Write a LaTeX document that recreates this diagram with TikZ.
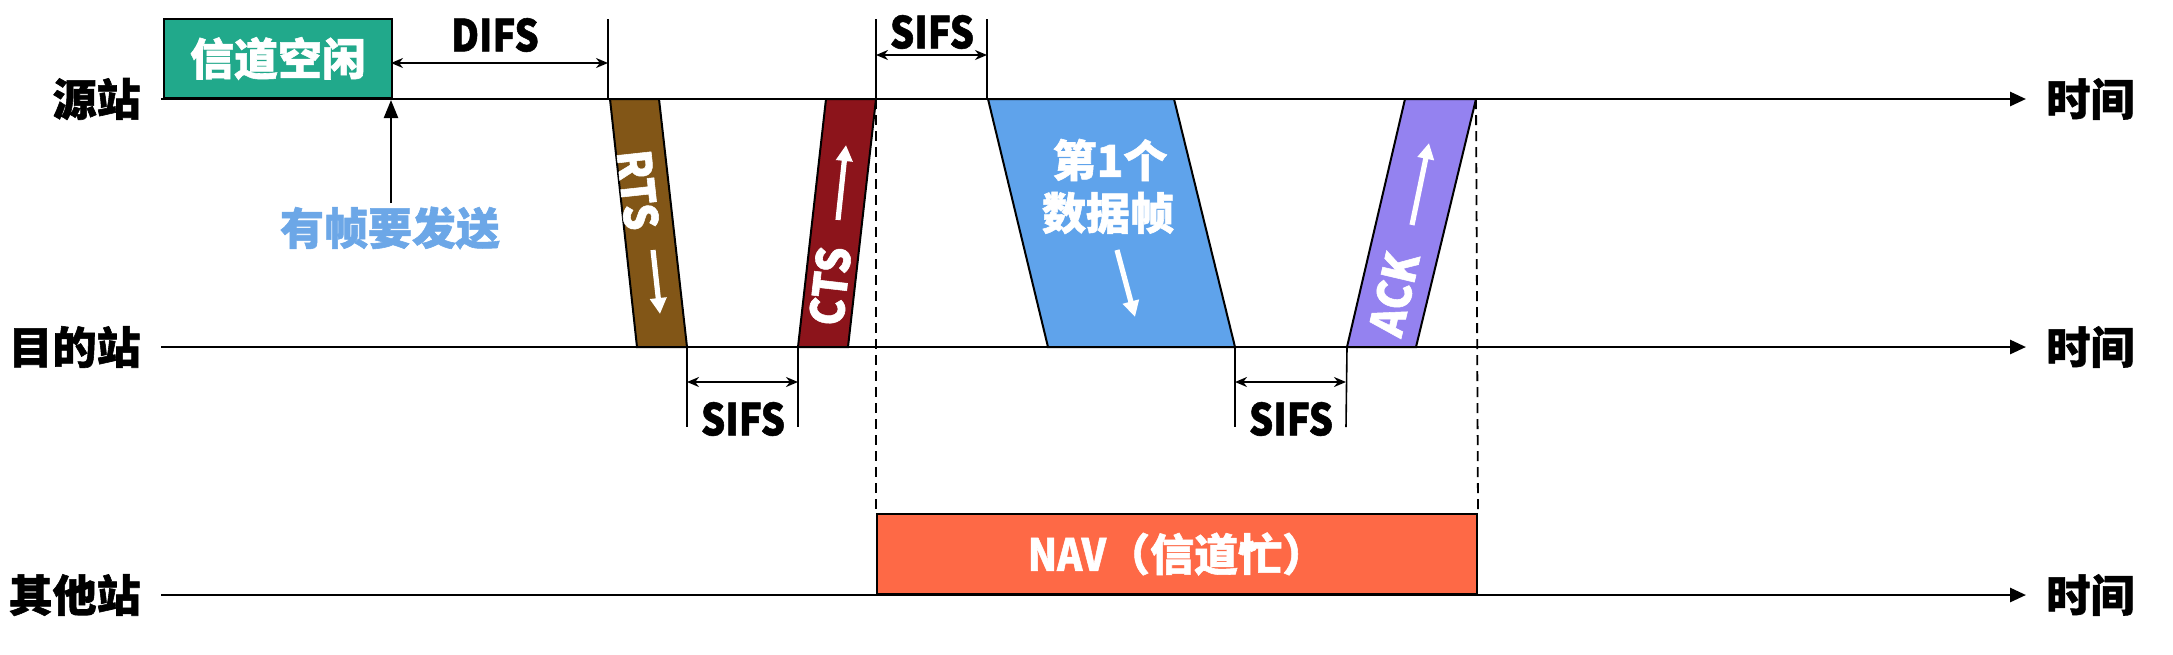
\documentclass[tikz,border=0pt]{standalone}
\usepackage{fontspec}
\usepackage{graphicx}
\setmainfont{Noto Sans CJK SC}[BoldFeatures={FakeBold=1.3}]
\newcommand\nar[1]{\scalebox{0.87}[1]{#1}}
\newcommand\narr[1]{\scalebox{0.9}[1]{#1}}
\usetikzlibrary{arrows.meta}
\definecolor{idle}{HTML}{21A98B}
\definecolor{rtsc}{HTML}{825617}
\definecolor{ctsc}{HTML}{8C141B}
\definecolor{datac}{HTML}{5FA3EB}
\definecolor{ackc}{HTML}{9482F0}
\definecolor{navc}{HTML}{FE6946}
\definecolor{sendc}{HTML}{6CA7E7}
\begin{document}
\begin{tikzpicture}[x=0.5pt,y=-0.5pt,
  axis/.style={line width=1.4pt,-{Triangle[length=8pt,width=7pt]}},
  frame/.style={draw=black,line width=1pt},
  gap/.style={line width=1pt,{Stealth[length=6pt,width=5pt]}-{Stealth[length=6pt,width=5pt]}},
  tickline/.style={line width=0.8pt},
  dashline/.style={line width=0.9pt,dash pattern=on 5pt off 3pt},
  warrow/.style={white,line width=2.6pt,-{Triangle[length=8pt,width=8pt]}},
  lab/.style={font=\fontsize{22}{24}\selectfont\bfseries,inner sep=0pt},
  small/.style={font=\fontsize{22}{24}\selectfont\bfseries,inner sep=0pt},
  intext/.style={font=\fontsize{23}{25}\selectfont\bfseries,text=white,inner sep=0pt},
  bigtext/.style={font=\fontsize{22}{24}\selectfont\bfseries,text=white,inner sep=0pt,align=center}]
\useasboundingbox (0,0) rectangle (2173,654);

% station labels
\node[lab,anchor=east] (src) at (141,99) {源站};
\node[lab,anchor=east] (dst) at (141,347) {目的站};
\node[lab,anchor=east] (oth) at (141,595) {其他站};
\node[lab,anchor=west] (t1) at (2046,99) {时间};
\node[lab,anchor=west] (t2) at (2046,347) {时间};
\node[lab,anchor=west] (t3) at (2046,595) {时间};

% time axes
\coordinate (a1s) at (161,99);  \coordinate (a1e) at (2026,99);
\coordinate (a2s) at (161,347); \coordinate (a2e) at (2026,347);
\coordinate (a3s) at (161,595); \coordinate (a3e) at (2026,595);

% idle box
\node[frame,fill=idle,minimum width=114pt,minimum height=39.5pt,inner sep=0pt,anchor=south west,
      text=white,font=\fontsize{22}{24}\selectfont\bfseries] (idle) at (163,99) {信道空闲};

% NAV box
\node[frame,fill=navc,minimum width=300pt,minimum height=40pt,inner sep=0pt,anchor=south west,
      text=white,font=\fontsize{22}{24}\selectfont\bfseries] (nav) at (876,595) {\nar{NAV}（信道忙）};

% frames (parallelograms)
\coordinate (r1) at (610,99); \coordinate (r2) at (659,99); \coordinate (r3) at (687,347); \coordinate (r4) at (637,347);
\coordinate (c1) at (826,99); \coordinate (c2) at (876,99); \coordinate (c3) at (848,347); \coordinate (c4) at (798,347);
\coordinate (d1) at (988,99); \coordinate (d2) at (1174,99); \coordinate (d3) at (1235,347); \coordinate (d4) at (1048,347);
\coordinate (k1) at (1405,99); \coordinate (k2) at (1476,99); \coordinate (k3) at (1416,347); \coordinate (k4) at (1347,347);
\filldraw[frame,fill=rtsc] (r1) -- (r2) -- (r3) -- (r4) -- cycle;
\filldraw[frame,fill=ctsc] (c1) -- (c2) -- (c3) -- (c4) -- cycle;
\filldraw[frame,fill=datac] (d1) -- (d2) -- (d3) -- (d4) -- cycle;
\filldraw[frame,fill=ackc] (k1) -- (k2) -- (k3) -- (k4) -- cycle;

\draw[axis] (a1s) -- (a1e);
\draw[axis] (a2s) -- (a2e);
\draw[axis] (a3s) -- (a3e);

% texts in frames
\node[intext,rotate=-83.8] (rts) at (638,190) {\narr{RTS}};
\coordinate (ra1) at (653,250); \coordinate (ra2) at (660,314);
\draw[warrow] (ra1) -- (ra2);
\node[intext,rotate=83.5] (cts) at (830,286) {\narr{CTS}};
\coordinate (ca1) at (838,220); \coordinate (ca2) at (846,145);
\draw[warrow] (ca1) -- (ca2);
\node[intext,rotate=76.8] (ack) at (1394,294) {\narr{ACK}};
\coordinate (ka1) at (1412,225); \coordinate (ka2) at (1429,143);
\draw[warrow] (ka1) -- (ka2);
\node[bigtext] (data1) at (1110,160) {第1个};
\node[bigtext] (data2) at (1108,213) {数据帧};
\coordinate (da1) at (1117,250); \coordinate (da2) at (1135,317);
\draw[warrow] (da1) -- (da2);

% DIFS
\coordinate (dfa) at (608,19); \coordinate (dfb) at (608,99);
\draw[tickline] (dfa) -- (dfb);
\coordinate (dl) at (391,63); \coordinate (dr) at (608,63);
\draw[gap] (dl) -- (dr);
\node[small] (difs) at (495,35) {\nar{DIFS}};

% frame to send
\coordinate (fs1) at (391,203); \coordinate (fs2) at (391,100);
\draw[line width=1.2pt,-{Triangle[length=9pt,width=7pt]}] (fs1) -- (fs2);
\node[lab,text=sendc] (send) at (390,228) {有帧要发送};

% SIFS upper
\coordinate (su1) at (876,19); \coordinate (su2) at (987,19); \coordinate (su3) at (987,99);
\draw[tickline] (su1) -- (c2);
\draw[tickline] (su2) -- (su3);
\coordinate (sul) at (876,55); \coordinate (sur) at (987,55);
\draw[gap] (sul) -- (sur);
\node[small] (sifs1) at (932,32) {\nar{SIFS}};

% SIFS lower 1
\coordinate (sa1) at (687,427); \coordinate (sa2) at (798,427);
\draw[tickline] (r3) -- (sa1);
\draw[tickline] (c4) -- (sa2);
\coordinate (sal) at (687,382); \coordinate (sar) at (798,382);
\draw[gap] (sal) -- (sar);
\node[small] (sifs2) at (743,419) {\nar{SIFS}};

% SIFS lower 2
\coordinate (sb1) at (1235,427); \coordinate (sb2) at (1346,427);
\draw[tickline] (d3) -- (sb1);
\draw[tickline] (k4) -- (sb2);
\coordinate (sbl) at (1235,382); \coordinate (sbr) at (1346,382);
\draw[gap] (sbl) -- (sbr);
\node[small] (sifs3) at (1291,419) {\nar{SIFS}};

% dashed lines
\draw[dashline] (c2) -- (nav.north west);
\draw[dashline] (k2) -- (nav.north east);
\end{tikzpicture}
\end{document}
